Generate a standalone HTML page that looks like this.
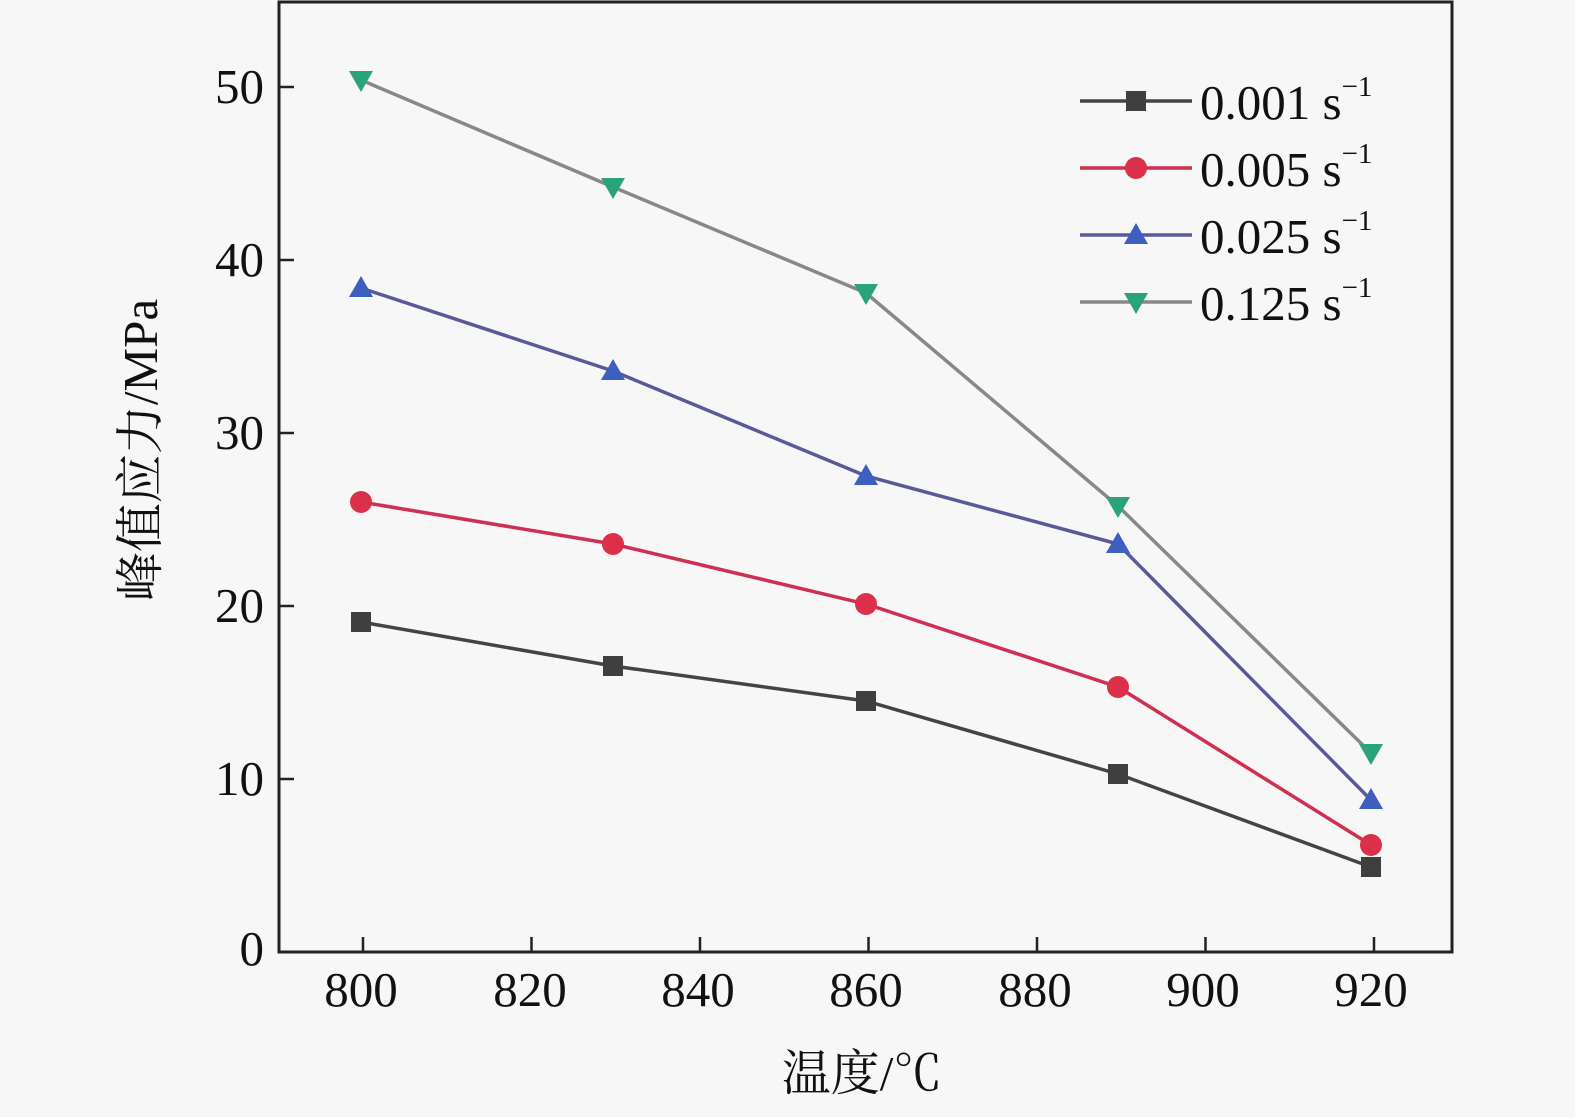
<!DOCTYPE html>
<html><head><meta charset="utf-8"><style>body{margin:0;background:#f7f7f7}</style></head><body>
<svg width="1575" height="1112" xmlns="http://www.w3.org/2000/svg" font-family="'Liberation Serif','Noto Serif CJK SC',serif">
<rect width="1575" height="1112" fill="#f7f7f7"/>
<rect x="279" y="2" width="1173" height="950" fill="none" stroke="#222" stroke-width="3"/>
<g stroke="#222" stroke-width="2.5">
<line x1="279" y1="87" x2="294" y2="87"/><line x1="279" y1="260" x2="294" y2="260"/><line x1="279" y1="433" x2="294" y2="433"/><line x1="279" y1="606" x2="294" y2="606"/><line x1="279" y1="779" x2="294" y2="779"/>
<line x1="363" y1="952" x2="363" y2="937"/><line x1="531.5" y1="952" x2="531.5" y2="937"/><line x1="700" y1="952" x2="700" y2="937"/><line x1="868.5" y1="952" x2="868.5" y2="937"/><line x1="1037" y1="952" x2="1037" y2="937"/><line x1="1205.5" y1="952" x2="1205.5" y2="937"/><line x1="1374" y1="952" x2="1374" y2="937"/>
</g>
<g font-size="49" fill="#111" text-anchor="end">
<text x="264" y="103">50</text><text x="264" y="276">40</text><text x="264" y="449">30</text><text x="264" y="622">20</text><text x="264" y="795">10</text><text x="264" y="965">0</text>
</g>
<g font-size="49" fill="#111" text-anchor="middle">
<text x="361" y="1006">800</text><text x="530" y="1006">820</text><text x="698" y="1006">840</text><text x="866" y="1006">860</text><text x="1035" y="1006">880</text><text x="1203" y="1006">900</text><text x="1371" y="1006">920</text>
<text x="862" y="1090">温度/℃</text>
<text transform="translate(157,450) rotate(-90)">峰值应力/MPa</text>
</g>
<polyline points="361,622 613,666 866,701 1118,774 1371,867" fill="none" stroke="#444" stroke-width="3.5"/>
<polyline points="361,502 613,544 866,604 1118,687 1371,845" fill="none" stroke="#d0304f" stroke-width="3.5"/>
<polyline points="361,288 613,371 866,476 1118,544 1371,800" fill="none" stroke="#5a5a9a" stroke-width="3.5"/>
<polyline points="361,80 613,187 866,293 1118,506 1371,753" fill="none" stroke="#888" stroke-width="3.5"/>
<g fill="#3f3f3f"><rect x="351" y="612" width="20" height="20"/><rect x="603" y="656" width="20" height="20"/><rect x="856" y="691" width="20" height="20"/><rect x="1108" y="764" width="20" height="20"/><rect x="1361" y="857" width="20" height="20"/></g>
<g fill="#dc2f4a"><circle cx="361" cy="502" r="11"/><circle cx="613" cy="544" r="11"/><circle cx="866" cy="604" r="11"/><circle cx="1118" cy="687" r="11"/><circle cx="1371" cy="845" r="11"/></g>
<g fill="#3d5fbf"><path d="M361,276 l12,21 h-24z"/><path d="M613,359 l12,21 h-24z"/><path d="M866,464 l12,21 h-24z"/><path d="M1118,532 l12,21 h-24z"/><path d="M1371,788 l12,21 h-24z"/></g>
<g fill="#2aa37a"><path d="M361,92 l12,-21 h-24z"/><path d="M613,199 l12,-21 h-24z"/><path d="M866,305 l12,-21 h-24z"/><path d="M1118,518 l12,-21 h-24z"/><path d="M1371,765 l12,-21 h-24z"/></g>
<line x1="1080" y1="101" x2="1192" y2="101" stroke="#444" stroke-width="3.5"/><rect x="1126" y="91" width="20" height="20" fill="#3f3f3f"/>
<line x1="1080" y1="168" x2="1192" y2="168" stroke="#d0304f" stroke-width="3.5"/><circle cx="1136" cy="168" r="11" fill="#dc2f4a"/>
<line x1="1080" y1="235" x2="1192" y2="235" stroke="#5a5a9a" stroke-width="3.5"/><path d="M1136,223 l12,21 h-24z" fill="#3d5fbf"/>
<line x1="1080" y1="302" x2="1192" y2="302" stroke="#888" stroke-width="3.5"/><path d="M1136,314 l12,-21 h-24z" fill="#2aa37a"/>
<g font-size="49" fill="#111">
<text x="1200" y="119">0.001 s<tspan font-size="29" dy="-23">−1</tspan></text>
<text x="1200" y="186">0.005 s<tspan font-size="29" dy="-23">−1</tspan></text>
<text x="1200" y="253">0.025 s<tspan font-size="29" dy="-23">−1</tspan></text>
<text x="1200" y="320">0.125 s<tspan font-size="29" dy="-23">−1</tspan></text>
</g>
</svg>
</body></html>
